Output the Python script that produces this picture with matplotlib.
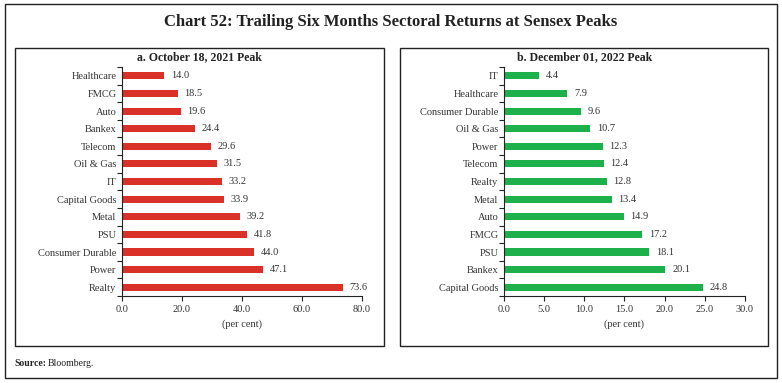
import matplotlib
matplotlib.use("Agg")
import matplotlib.pyplot as plt
from matplotlib.patches import Rectangle

plt.rcParams['font.family'] = ['Liberation Serif', 'DejaVu Serif']

cats_a = ["Healthcare", "FMCG", "Auto", "Bankex", "Telecom", "Oil & Gas", "IT",
          "Capital Goods", "Metal", "PSU", "Consumer Durable", "Power", "Realty"]
vals_a = [14.0, 18.5, 19.6, 24.4, 29.6, 31.5, 33.2, 33.9, 39.2, 41.8, 44.0, 47.1, 73.6]

cats_b = ["IT", "Healthcare", "Consumer Durable", "Oil & Gas", "Power", "Telecom", "Realty",
          "Metal", "Auto", "FMCG", "PSU", "Bankex", "Capital Goods"]
vals_b = [4.4, 7.9, 9.6, 10.7, 12.3, 12.4, 12.8, 13.4, 14.9, 17.2, 18.1, 20.1, 24.8]

xticks_a = [0, 20, 40, 60, 80]
xticks_b = [0, 5, 10, 15, 20, 25, 30]

fig = plt.figure(figsize=(7.82, 3.83), dpi=100)
fig.patch.set_facecolor('white')

# outer border and panel boxes
fig.add_artist(Rectangle((0.006, 0.012), 0.988, 0.978, transform=fig.transFigure,
                         fill=False, lw=1.0, ec='#222222'))
for x0, x1 in [(0.019, 0.491), (0.5115, 0.982)]:
    fig.add_artist(Rectangle((x0, 0.097), x1 - x0, 0.778, transform=fig.transFigure,
                             fill=False, lw=1.0, ec='#222222'))

fig.text(0.5, 0.943, "Chart 52: Trailing Six Months Sectoral Returns at Sensex Peaks",
         ha='center', va='center', fontsize=12, fontweight='bold', color='#222222')
fig.text(0.255, 0.851, "a. October 18, 2021 Peak", ha='center', va='center',
         fontsize=8.5, fontweight='bold', color='#222222')
fig.text(0.747, 0.851, "b. December 01, 2022 Peak", ha='center', va='center',
         fontsize=8.5, fontweight='bold', color='#222222')
fig.text(0.019, 0.052, "Source:", ha='left', va='center', fontsize=7,
         fontweight='bold', color='#222222')
fig.text(0.061, 0.052, "Bloomberg.", ha='left', va='center', fontsize=7, color='#222222')

def panel(rect, cats, vals, xticks, color):
    ax = fig.add_axes(rect)
    n = len(cats)
    ys = list(range(n))
    ax.barh(ys, vals, height=0.4, color=color)
    ax.set_ylim(n - 0.5, -0.5)
    ax.set_xlim(xticks[0], xticks[-1])
    ax.set_xticks(xticks)
    ax.set_xticklabels([f"{t:.1f}" for t in xticks], fontsize=7.5, color='#333333')
    ax.set_yticks(ys)
    ax.set_yticklabels(cats, fontsize=7.5, color='#333333')
    ax.tick_params(axis='y', length=0, pad=4)
    ax.set_yticks([i - 0.5 for i in range(n + 1)], minor=True)
    ax.tick_params(axis='y', which='minor', length=3.5, width=0.8, color='#222222')
    ax.tick_params(axis='x', length=3.5, width=0.8, color='#222222', pad=3)
    for s in ['top', 'right']:
        ax.spines[s].set_visible(False)
    for s in ['left', 'bottom']:
        ax.spines[s].set_linewidth(0.8)
        ax.spines[s].set_color('#222222')
    span = xticks[-1] - xticks[0]
    for y, v in zip(ys, vals):
        ax.text(v + span * 0.028, y, f"{v:.1f}", va='center', ha='left',
                fontsize=7.5, color='#333333')
    ax.set_xlabel("(per cent)", fontsize=7.5, color='#333333', labelpad=4)
    return ax

panel([0.156, 0.227, 0.307, 0.598], cats_a, vals_a, xticks_a, '#d93128')
panel([0.6445, 0.227, 0.308, 0.598], cats_b, vals_b, xticks_b, '#1db04b')

fig.savefig("out.png", dpi=100)
